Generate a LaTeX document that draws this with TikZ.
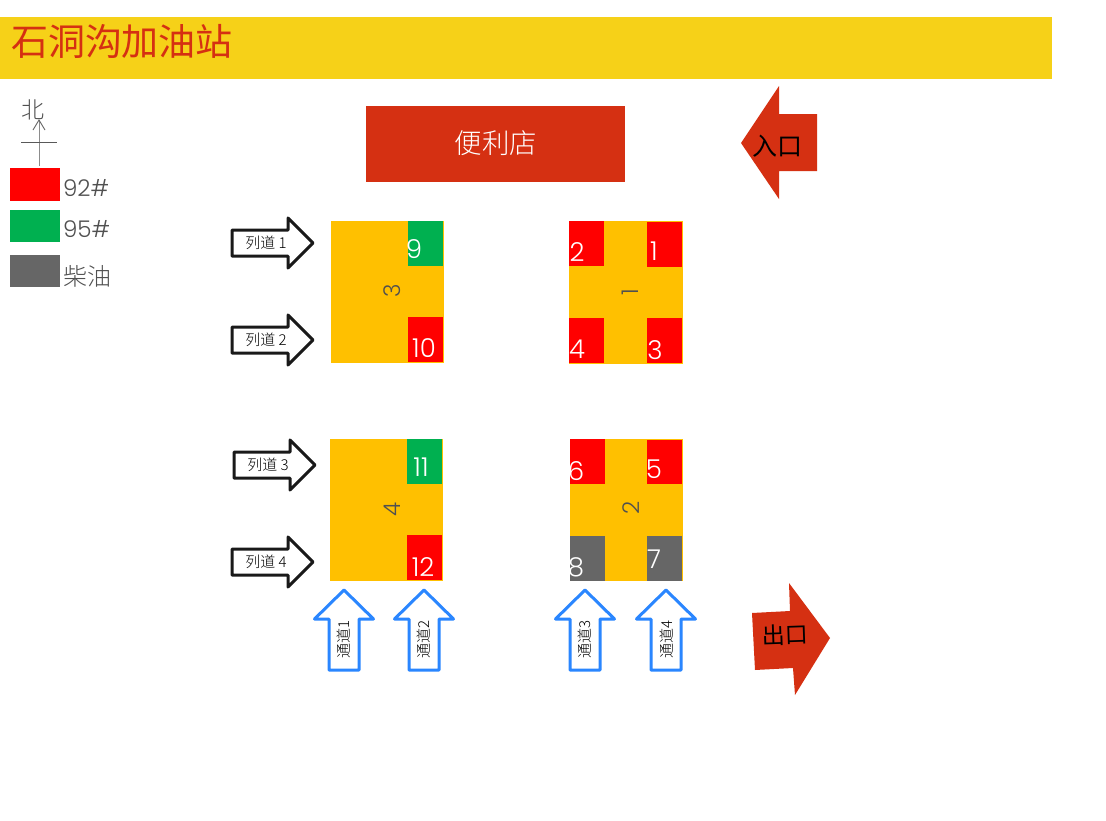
\documentclass[tikz,border=0pt]{standalone}
\usepackage{fontspec}
\setmainfont{Poppins Light}
\newfontfamily\cjk{Noto Sans CJK SC}
\newfontfamily\cjklight{Noto Sans CJK SC Light}
\definecolor{banner}{HTML}{F6D118}
\definecolor{brick}{HTML}{D53012}
\definecolor{amber}{HTML}{FFC000}
\definecolor{pump}{HTML}{FF0000}
\definecolor{greenpump}{HTML}{00B050}
\definecolor{greypump}{HTML}{666666}
\definecolor{ink}{HTML}{505050}
\definecolor{bluearrow}{HTML}{2A86FF}
\newcommand{\fs}[1]{\fontsize{#1}{#1}\selectfont}
\tikzset{
  label/.style={inner sep=0pt,outer sep=0pt,anchor=center},
  pumpno/.style={label,text=white,font=\fs{26}},
  stationno/.style={label,text=ink,font=\fs{23},rotate=90},
  legendtxt/.style={label,anchor=west,text=ink,font=\fs{23}},
  lane/.style={draw=black!90,line width=3pt,fill=white,line join=round},
  lanetxt/.style={label,text=black,font=\fs{15}\cjklight},
  aisle/.style={draw=bluearrow,line width=3pt,fill=white,line join=round},
  aisletxt/.style={label,text=black,font=\fs{15}\cjklight,rotate=90},
}
\newcommand{\lanearrow}[2]{% left x, centre y
  \draw[lane] (#1,#2-13) -- (#1+56,#2-13) -- (#1+56,#2-25) -- (#1+81,#2) -- (#1+56,#2+25) -- (#1+56,#2+13) -- (#1,#2+13) -- cycle;
}
\newcommand{\aislearrow}[1]{% tip x
  \draw[aisle] (#1,590) -- (#1+29.5,619) -- (#1+15,619) -- (#1+15,670) -- (#1-15,670) -- (#1-15,619) -- (#1-29.5,619) -- cycle;
}
\begin{document}
\begin{tikzpicture}[x=1pt,y=-1pt]
\useasboundingbox (0,0) rectangle (1106,820);
\fill[white] (0,0) rectangle (1106,820);
% banner
\fill[banner] (0,17) rectangle (1052,79);
\node[label,anchor=west,text=brick,font=\fs{37}\cjk] (title) at (11,41) {石洞沟加油站};
% north mark
\node[label,text=ink,font=\fs{23}\cjklight] (north) at (33,110) {北};
\coordinate (nb) at (39,166);
\coordinate (nt) at (39,120);
\draw[black!45,line width=1pt] (nb) -- (nt);
\draw[black!60,line width=0.9pt] (33,130) -- (nt) -- (45,130);
\draw[black!65,line width=0.9pt] (21,142) -- (57,142);
% legend
\fill[pump] (10,168) rectangle (60,201);
\fill[greenpump] (10,210) rectangle (60,242);
\fill[greypump] (10,255) rectangle (60,287);
\node[legendtxt] (l92) at (63,188) {92\#};
\node[legendtxt] (l95) at (63,229) {95\#};
\node[legendtxt,font=\fs{24}\cjklight] (ldi) at (63,276) {柴油};
% shop
\fill[brick] (366,106) rectangle (625,182);
\node[label,text=white,font=\fs{27.5}\cjklight] (shop) at (496,143) {便利店};
% entrance, exit
\fill[brick] (741,143) -- (779,86) -- (779,114) -- (817,114) -- (817,171) -- (779,171) -- (779,199) -- cycle;
\node[label,text=black,font=\fs{25}\cjk] (ent) at (777,146) {入口};
\fill[brick] (752,613) -- (790,611) -- (789,583) -- (830,638) -- (795,695) -- (793,668) -- (755,670) -- cycle;
\node[label,text=black,font=\fs{23}\cjk,rotate=2] (ex) at (785,635) {出口};
% station 3
\fill[amber] (331,221) rectangle (444,363);
\fill[greenpump] (408,221) rectangle (443,266);
\fill[pump] (408,317) rectangle (443,362);
\node[pumpno] (n9) at (414,249) {9};
\node[pumpno] (n10) at (424,348) {10};
\node[stationno] (s3) at (392,291) {3};
% station 1
\fill[amber] (569,221) rectangle (683,364);
\fill[pump] (569,221) rectangle (604,266);
\fill[pump] (647,222) rectangle (682,267);
\fill[pump] (569,318) rectangle (604,363);
\fill[pump] (647,318) rectangle (682,363);
\node[pumpno] (n2) at (577,252) {2};
\node[pumpno] (n1) at (654,251) {1};
\node[pumpno] (n4) at (577,349) {4};
\node[pumpno] (n3) at (655,350) {3};
\node[stationno] (s1) at (630,292) {1};
% station 4
\fill[amber] (330,439) rectangle (443,581);
\fill[greenpump] (407,439) rectangle (442,484);
\fill[pump] (407,535) rectangle (442,580);
\node[pumpno] (n11) at (421,467) {11};
\node[pumpno] (n12) at (423,567) {12};
\node[stationno] (s4) at (392,509) {4};
% station 2
\fill[amber] (570,439) rectangle (683,581);
\fill[pump] (570,439) rectangle (605,484);
\fill[pump] (647,440) rectangle (682,484);
\fill[greypump] (570,536) rectangle (605,581);
\fill[greypump] (647,536) rectangle (682,581);
\node[pumpno] (n6) at (576,471) {6};
\node[pumpno] (n5) at (654,469) {5};
\node[pumpno] (n8) at (576,567) {8};
\node[pumpno] (n7) at (654,559) {7};
\node[stationno] (s2) at (631,508) {2};
% lanes
\lanearrow{232}{243}
\lanearrow{232}{340}
\lanearrow{234}{465}
\lanearrow{232}{562}
\node[lanetxt] (la1) at (266,243) {列道 1};
\node[lanetxt] (la2) at (266,340) {列道 2};
\node[lanetxt] (la3) at (268,465) {列道 3};
\node[lanetxt] (la4) at (266,562) {列道 4};
% aisles
\aislearrow{344}
\aislearrow{424}
\aislearrow{585}
\aislearrow{666}
\node[aisletxt] (ai1) at (344,639) {通道1};
\node[aisletxt] (ai2) at (424,639) {通道2};
\node[aisletxt] (ai3) at (585,639) {通道3};
\node[aisletxt] (ai4) at (667,639) {通道4};
\end{tikzpicture}
\end{document}
